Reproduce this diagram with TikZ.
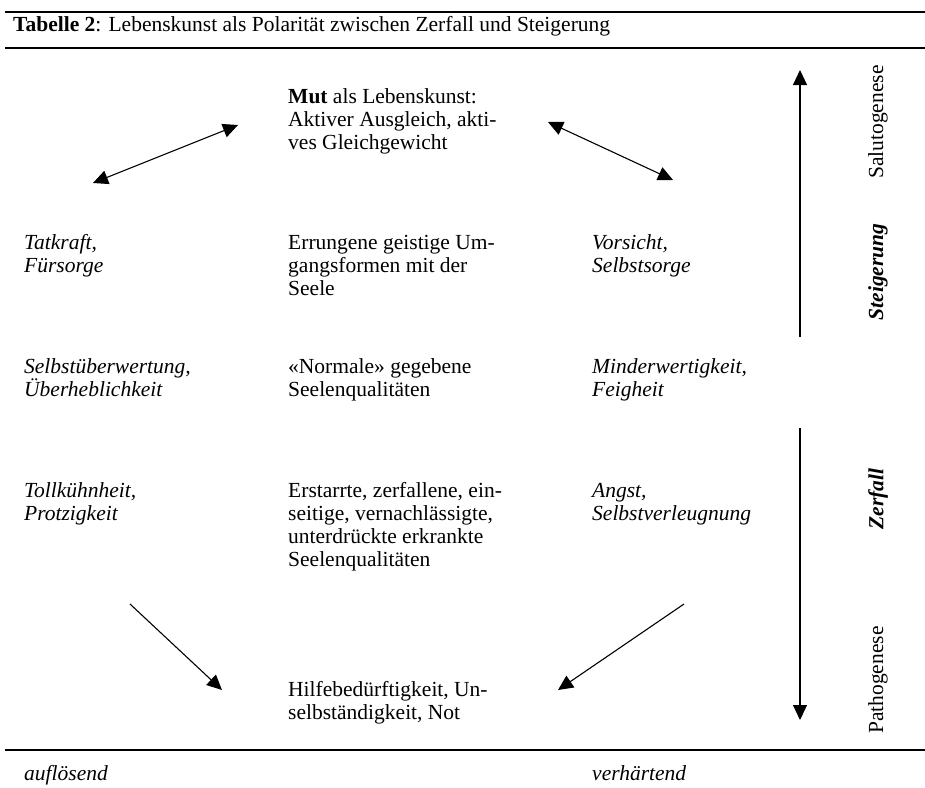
\documentclass[tikz,border=0pt]{standalone}
\usepackage{fontspec}
\setmainfont{Liberation Serif}
\usetikzlibrary{arrows.meta}
\tikzset{
  txt/.style={anchor=base west, align=left, inner sep=0pt, font=\fontsize{21.5}{23.3}\selectfont},
  itxt/.style={txt, font=\fontsize{21.5}{23.3}\selectfont\itshape},
  side/.style={rotate=90, inner sep=0pt, font=\fontsize{21.5}{23.3}\selectfont},
  rulel/.style={line width=2pt},
  arr/.style={line width=1.1pt, -{Triangle[length=15pt,width=14pt]}},
  darr/.style={line width=1.1pt, {Triangle[length=15pt,width=14pt]}-{Triangle[length=15pt,width=14pt]}},
}
\begin{document}
\begin{tikzpicture}[x=1pt,y=-1pt]
\useasboundingbox (0,0) rectangle (925,787);
\coordinate (r1a) at (5,12); \coordinate (r1b) at (925,12);
\coordinate (r2a) at (5,48); \coordinate (r2b) at (925,48);
\coordinate (r3a) at (5,750); \coordinate (r3b) at (925,750);
\draw[rulel] (r1a) -- (r1b);
\draw[rulel] (r2a) -- (r2b);
\draw[rulel] (r3a) -- (r3b);
% (base anchor = baseline of the last line)
\node[txt] (title) at (13,31) {\textbf{Tabelle 2}: Lebenskunst als Polarität zwischen Zerfall und Steigerung};

\node[txt] (mut) at (288,149.6) {\textbf{Mut} als Lebenskunst:\\Aktiver Ausgleich, akti-\\ves Gleichgewicht};

\node[itxt] (tat) at (24,272.3) {Tatkraft,\\Fürsorge};
\node[txt] (err) at (288,295.6) {Errungene geistige Um-\\gangsformen mit der\\Seele};
\node[itxt] (vor) at (592,272.3) {Vorsicht,\\Selbstsorge};

\node[itxt] (sel) at (24,396.3) {Selbstüberwertung,\\Überheblichkeit};
\node[txt] (norm) at (288,396.3) {«Normale» gegebene\\Seelenqualitäten};
\node[itxt] (min) at (592,396.3) {Minderwertigkeit,\\Feigheit};

\node[itxt] (toll) at (24,520.3) {Tollkühnheit,\\Protzigkeit};
\node[txt] (erst) at (288,566.9) {Erstarrte, zerfallene, ein-\\seitige, vernachlässigte,\\unterdrückte erkrankte\\Seelenqualitäten};
\node[itxt] (angst) at (592,520.3) {Angst,\\Selbstverleugnung};

\node[txt] (hilfe) at (288,719.3) {Hilfebedürftigkeit, Un-\\selbständigkeit, Not};

\node[itxt] (auf) at (24,780) {auflösend};
\node[itxt] (verh) at (592,780) {verhärtend};

\node[side] (salu) at (878,122) {Salutogenese};
\node[side] (steig) at (878,272) {\bfseries\itshape Steigerung};
\node[side] (zerf) at (878,499) {\bfseries\itshape Zerfall};
\node[side] (patho) at (878,680) {Pathogenese};

% arrows
\coordinate (a1s) at (93,183); \coordinate (a1e) at (238,125);
\coordinate (a2s) at (548,122); \coordinate (a2e) at (673,180);
\coordinate (a3s) at (130,604); \coordinate (a3e) at (222,690);
\coordinate (a4s) at (684,604); \coordinate (a4e) at (558,690);
\coordinate (v1s) at (800,337); \coordinate (v1e) at (800,70);
\coordinate (v2s) at (800,428); \coordinate (v2e) at (800,720);
\draw[darr] (a1s) -- (a1e);
\draw[darr] (a2s) -- (a2e);
\draw[arr] (a3s) -- (a3e);
\draw[arr] (a4s) -- (a4e);
\draw[arr] (v1s) -- (v1e);
\draw[arr] (v2s) -- (v2e);
\end{tikzpicture}
\end{document}
